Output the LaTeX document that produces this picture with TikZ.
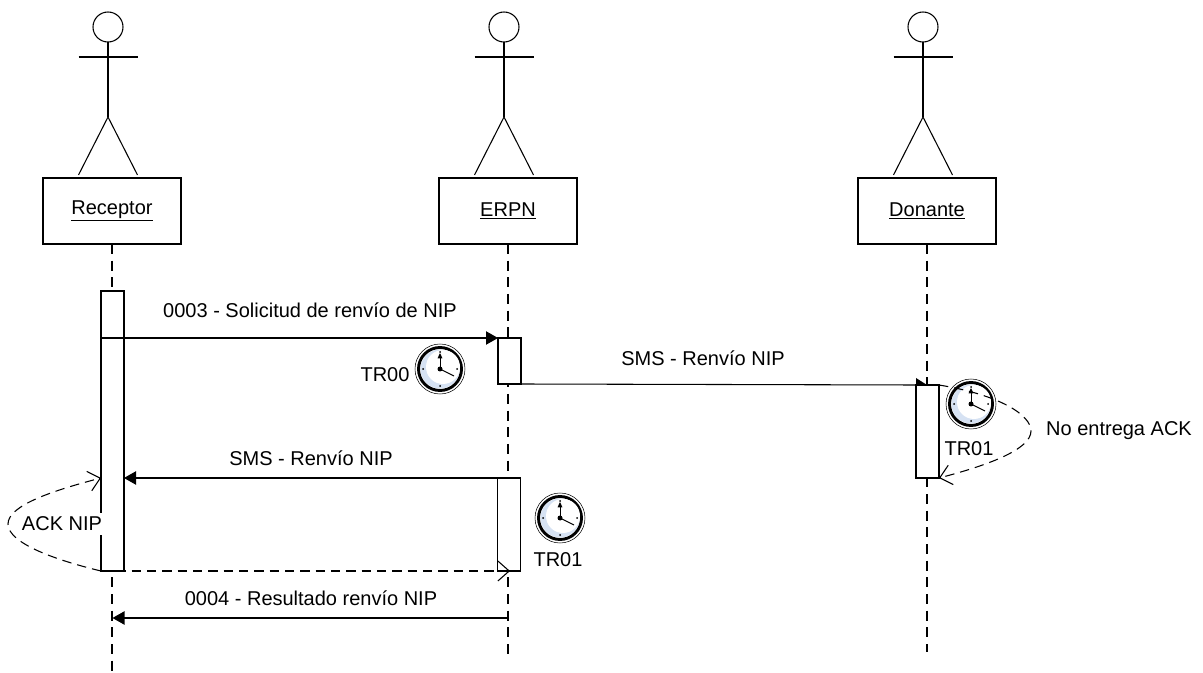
\documentclass[tikz,border=0pt]{standalone}
\usepackage{fontspec}
\setmainfont{Liberation Sans}
\usetikzlibrary{arrows.meta,calc}
\definecolor{clockblue}{RGB}{214,226,243}
\tikzset{
  px/.style={x=.75pt,y=-.75pt},
  ln/.style={line width=.8pt,black},
  actorbox/.style={draw,ln,fill=white,minimum width=103.5pt,minimum height=49.5pt,inner sep=0pt,outer sep=0pt,font=\fontsize{15}{18}\selectfont},
  actbar/.style={draw,ln,fill=white,minimum width=17.25pt,inner sep=0pt,outer sep=0pt},
  lifeline/.style={ln,dash pattern=on 7.5pt off 5pt},
  msg/.style={ln,-{Triangle[length=9pt,width=10pt]}},
  ret/.style={ln,dash pattern=on 7pt off 4.5pt,-{Straight Barb[length=8.5pt,width=15pt,line width=.8pt]}},
  lab/.style={inner sep=0pt,font=\fontsize{15}{18}\selectfont},
  head/.style={draw,ln,circle,minimum size=22.5pt,inner sep=0pt,outer sep=0pt},
  clock/.pic={
    \fill[white] (0,0) circle (25);
    \draw[line width=.4pt] (0,0) circle (25);
    \draw[line width=2.2pt] (0,0) circle (21.5);
    \fill[clockblue] (0,0) circle (19.5);
    \fill[white] (3,-2) circle (17);
    \foreach \a in {0,90,180,270} \fill (\a:17) circle (1);
    \fill (0,0) circle (2.5);
    \draw[line width=.7pt,-{Triangle[length=4pt,width=3.5pt]}] (0,0) -- (0,-16);
    \draw[line width=.7pt] (0,0) -- (14,7);
  }
}
\begin{document}
\begin{tikzpicture}[px]
\useasboundingbox (0,0) rectangle (1203,673);
% actors
\foreach \n/\x/\t/\e in {r/108/Receptor/675,e/504/ERPN/660,d/923/Donante/652}{
  \node[head] (\n head) at (\x,27) {};
  \coordinate (\n neck) at (\x,57);
  \coordinate (\n hip) at (\x,117);
  \coordinate (\n la) at (\x-29.5,57);
  \coordinate (\n ra) at (\x+29.5,57);
  \coordinate (\n ll) at (\x-29.5,175);
  \coordinate (\n rl) at (\x+29.5,175);
  \draw[ln] (\n head.south) -- (\n hip);
  \draw[ln] (\n la) -- (\n ra);
  \draw[ln] (\n ll) -- (\n hip) -- (\n rl);
  \node[actorbox] (\n box) at (\x+4,211) {\underline{\t}};
  \coordinate (\n end) at (\x+4,\e);
  \draw[lifeline] (\n box.south) -- (\n end);
}
% activations
\node[actbar,minimum height=210pt] (r1) at (112.5,431) {};
\node[actbar,minimum height=34.5pt] (e1) at (509.5,361) {};
\node[actbar,minimum height=69.75pt] (e2) at (509,524.5) {};
\node[actbar,minimum height=69.75pt] (d1) at (927.5,431.5) {};
% clocks
\pic at (440,369) {clock};
\pic at (971,404) {clock};
\pic at (560,518) {clock};
% messages
\coordinate (fin) at (e2.center |- 0,618);
\draw[msg] (r1.west |- e1.north) -- (e1.north west);
\draw[ln] (e1.south east) -- (d1.north west);
\coordinate (tipa) at (d1.north west);
\coordinate (tipb) at ($(d1.north west)+(0,-7)$);
\coordinate (tipc) at ($(d1.north west)+(11,0)$);
\fill (tipa) -- (tipb) -- (tipc) -- cycle;
\draw[msg] (e2.north west) -- (r1.east |- e2.north);
\draw[msg] (fin) -- (r1.center |- fin);
\coordinate (retend) at ($(e2.south)+(1,0)$);
\draw[ret] (r1.south west) -- (retend);
% self-loops
\draw[ret] (d1.north east) .. controls (1000,395) and (1031,415) .. (1031,431)
   .. controls (1031,450) and (985,466) .. (d1.south east);
\draw[ret] (r1.south west) .. controls (55,560) and (8,543) .. (8,524)
   .. controls (8,505) and (55,490) .. (r1.west |- e2.north);
% labels
\node[lab] (t1) at (310,310) {0003 - Solicitud de renvío de NIP};
\node[lab] (t2) at (703,358) {SMS - Renvío NIP};
\node[lab] (t3) at (311,458) {SMS - Renvío NIP};
\node[lab] (t4) at (311,598) {0004 - Resultado renvío NIP};
\node[lab] (t5) at (385,375) {TR00};
\node[lab] (t6) at (969,449) {TR01};
\node[lab] (t7) at (558,560) {TR01};
\node[lab,fill=white,inner xsep=1pt,inner ysep=3pt] (t8) at (62,524) {ACK NIP};
\node[lab] (t9) at (1119,431) {No entrega ACK};
\end{tikzpicture}
\end{document}
